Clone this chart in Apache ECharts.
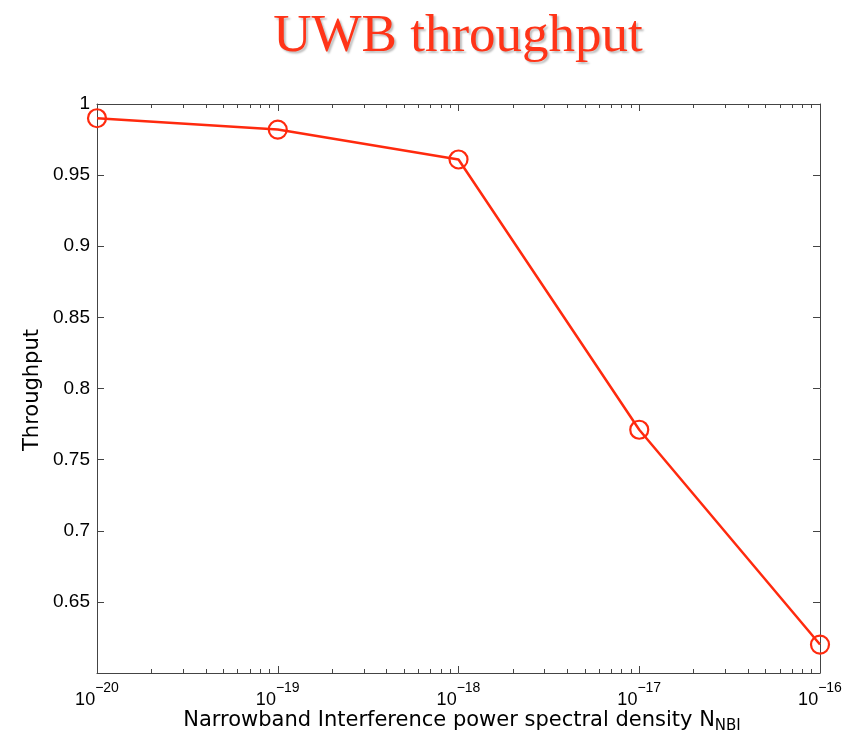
<!DOCTYPE html>
<html>
<head>
<meta charset="utf-8">
<script src="https://cdn.jsdelivr.net/npm/echarts@6/dist/echarts.min.js"></script>
<style>
html,body{margin:0;padding:0;background:#fff;}
#chart{width:856px;height:742px;}
</style>
</head>
<body>
<div id="chart"></div>
<script>
// Data
var xExponents = [-20, -19, -18, -17, -16];          // NBI PSD = 10^x
var throughput = [0.990, 0.982, 0.961, 0.771, 0.620];
var yTicks = [0.65, 0.7, 0.75, 0.8, 0.85, 0.9, 0.95, 1];
var titleText = 'UWB throughput';
var xName = 'Narrowband Interference power spectral density N';
var xNameSub = 'NBI';
var yName = 'Throughput';

// minor log ticks (log10 of k*10^n)
var minorTicks = [];
for (var n = -20; n < -16; n++) {
  for (var k = 2; k <= 9; k++) minorTicks.push(n + Math.log10(k));
}

var axisColor = '#444';
var red = '#ff2a0e';
var chart = echarts.init(document.getElementById('chart'));
var gridPos = {left: 97, right: 36, top: 104, bottom: 69};

function xMajor(pos, showLabel, gi) {
  return {
    type: 'value', gridIndex: gi, position: pos, min: -20, max: -16, interval: 1,
    axisLine: {show: true, lineStyle: {color: axisColor, width: 1}},
    axisTick: {show: true, inside: true, length: 7, lineStyle: {color: axisColor}},
    splitLine: {show: false},
    axisLabel: {
      show: showLabel, margin: 8,
      formatter: function (v) { return '{b|10}{s|' + String(v).replace('-', '\u2212') + '}'; },
      rich: {
        b: {fontFamily: 'Liberation Sans, Arial', fontSize: 18, color: '#000', padding: [10, 0, 0, 0]},
        s: {fontFamily: 'Liberation Sans, Arial', fontSize: 14, color: '#000', verticalAlign: 'top', padding: [0, 0, 12, 0]}
      }
    }
  };
}
function xMinor(pos, gi) {
  return {
    type: 'value', gridIndex: gi, position: pos, min: -20, max: -16,
    axisLine: {show: false},
    axisTick: {show: true, inside: true, length: 4, customValues: minorTicks, lineStyle: {color: axisColor}},
    splitLine: {show: false},
    axisLabel: {show: false}
  };
}
function yAx(pos, showLabel, gi, show) {
  return {
    type: 'value', gridIndex: gi, position: pos, min: 0.6, max: 1, interval: 0.05,
    show: show,
    axisLine: {show: true, lineStyle: {color: axisColor, width: 1}},
    axisTick: {show: true, inside: true, length: 7, lineStyle: {color: axisColor}},
    splitLine: {show: false},
    axisLabel: {
      show: showLabel, margin: 7, color: '#000',
      fontFamily: 'Liberation Sans, Arial', fontSize: 19,
      formatter: function (v) {
        var r = Math.round(v * 100) / 100;
        if (yTicks.indexOf(r) < 0) return '';
        return String(r);
      }
    }
  };
}

var option = {
  backgroundColor: '#fff',
  animation: false,
  title: {
    text: titleText,
    left: 453, textAlign: 'center', top: 6,
    textStyle: {
      fontFamily: 'Liberation Serif, Times New Roman, serif',
      fontWeight: 'normal', fontSize: 53, color: '#ff3418',
      textShadowColor: 'rgba(0,0,0,0.25)', textShadowOffsetX: 2, textShadowOffsetY: 2, textShadowBlur: 2
    }
  },
  grid: [
    Object.assign({containLabel: false}, gridPos),
    Object.assign({containLabel: false}, gridPos)
  ],
  xAxis: [
    xMajor('bottom', true, 0),
    xMajor('top', false, 0),
    xMinor('bottom', 1),
    xMinor('top', 1)
  ],
  yAxis: [
    yAx('left', true, 0, true),
    yAx('right', false, 0, true),
    yAx('left', false, 1, false)
  ],
  graphic: [
    {
      type: 'text', x: 462, y: 707,
      style: {
        text: '{n|' + xName + '}{s|' + xNameSub + '}',
        align: 'center', verticalAlign: 'top',
        rich: {
          n: {fontFamily: 'DejaVu Sans', fontSize: 21, fill: '#000'},
          s: {fontFamily: 'DejaVu Sans', fontSize: 15, fill: '#000', padding: [12, 0, 0, 0]}
        }
      }
    },
    {
      type: 'text', x: 22, y: 390, rotation: Math.PI / 2,
      style: {
        text: yName, align: 'center', verticalAlign: 'top',
        fontFamily: 'DejaVu Sans', fontSize: 21, fill: '#000'
      }
    }
  ],
  series: [{
    type: 'line',
    xAxisIndex: 0, yAxisIndex: 0,
    data: xExponents.map(function (x, i) { return [x, throughput[i]]; }),
    symbol: 'circle', symbolSize: 18,
    lineStyle: {color: red, width: 2.5},
    itemStyle: {color: 'rgba(255,255,255,0)', borderColor: red, borderWidth: 2.2},
    clip: false
  }]
};
chart.setOption(option);
</script>
</body>
</html>
